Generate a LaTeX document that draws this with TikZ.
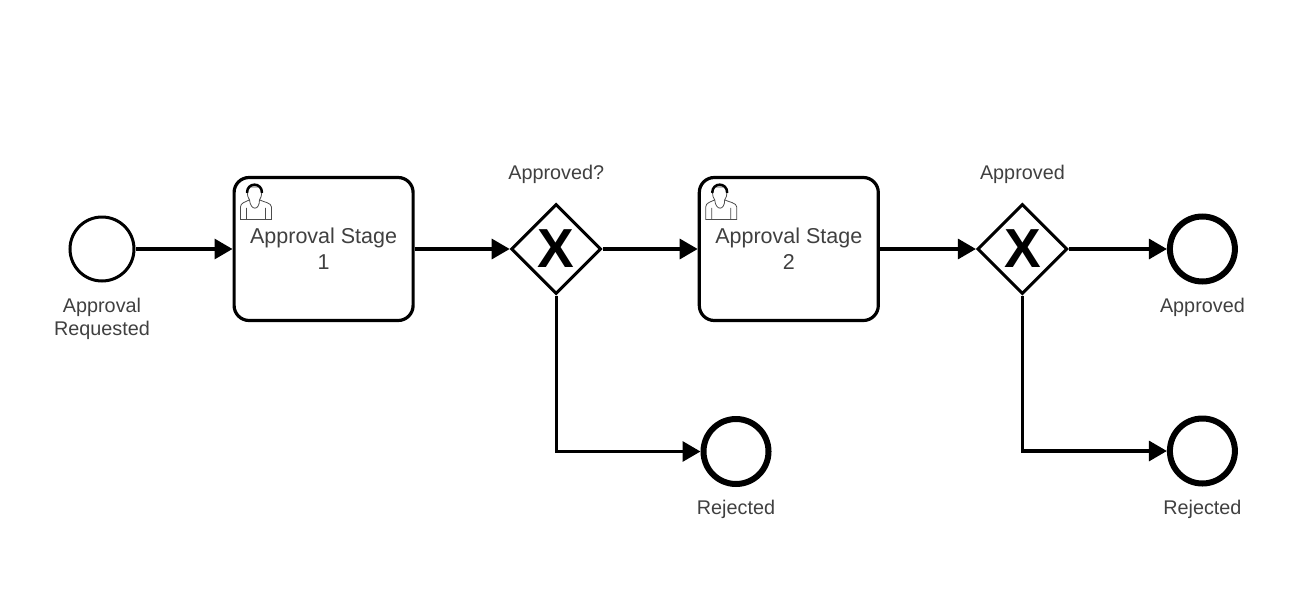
\documentclass[tikz,border=0pt]{standalone}
\usepackage{fontspec}
\setmainfont{Liberation Sans}
\usetikzlibrary{
	arrows.meta,
	positioning,
	shapes.geometric
}

\begin{document}
\begin{tikzpicture}[
			x=1pt, y=-1pt,
			evini/.style={draw, circle, line width=3pt, minimum size=64pt, inner sep=0pt},
			evfim/.style={draw, circle, line width=6pt, minimum size=65pt, inner sep=0pt},
			stagebox/.style={draw, rounded corners=15pt, line width=3.2pt, minimum width=179pt, minimum height=143pt, align=center, inner sep=0pt, text=black!75, font=\fontsize{21.5}{26}\selectfont},
			gate/.style={draw, diamond, aspect=1, line width=3pt, minimum size=90pt, inner sep=0pt, font=\fontsize{55}{55}\selectfont\bfseries},
			rot/.style={inner sep=0pt, align=center, text=black!75, font=\fontsize{19.8}{23}\selectfont},
			fl/.style={-{Triangle[length=18pt,width=20pt]}, line width=3.2pt},
			usericon/.pic={
				\draw[line width=0.8pt, black!70, fill=white] (8,43.5) -- (8,31) .. controls (8,27) and (13,26) .. (17,24) .. controls (14,20) and (14,13) .. (17,11) -- (27,11) .. controls (30,13) and (30,20) .. (27,24) .. controls (31,26) and (39,27) .. (39,31) -- (39,43.5) -- cycle;
				\draw[line width=0.8pt, black!70] (14,32) -- (14,43.5) (33,32) -- (33,43.5) (17,24) .. controls (18,35) and (27,35) .. (27,24);
				\draw[line width=2.5pt, black] (14.5,17) .. controls (14.5,6) and (29.5,6) .. (29.5,17);
			}
		]

		\useasboundingbox (0,0) rectangle (1293,597);

		\node[evini] (ini) at (102,249) {};
		\node[stagebox, right=97pt of ini] (st1) {Approval Stage\\ 1};
		\node[gate, right=95pt of st1] (gw1) {X};
		\node[stagebox, right=95pt of gw1] (st2) {Approval Stage\\ 2};
		\node[gate, right=96pt of st2] (gw2) {X};
		\node[evfim, right=98pt of gw2] (apr) {};
		\node[evfim, below=131pt of apr] (rej2) {};
		\node[evfim] (rej1) at (736,451.5) {};

		\node[rot, below=15pt of ini] (lini) {Approval\\ Requested};
		\node[rot, above=19pt of gw1] (lgw1) {Approved?};
		\node[rot, above=19pt of gw2] (lgw2) {Approved};
		\node[rot, below=13pt of apr] (lapr) {Approved};
		\node[rot, below=13pt of rej1] (lrej1) {Rejected};
		\node[rot, below=13pt of rej2] (lrej2) {Rejected};

		\pic at (st1.north west) {usericon};
		\pic at (st2.north west) {usericon};

		\draw[fl] (ini) -- (st1);
		\draw[fl] (st1) -- (gw1);
		\draw[fl] (gw1) -- (st2);
		\draw[fl] (st2) -- (gw2);
		\draw[fl] (gw2) -- (apr);
		\draw[fl] (gw1) |- (rej1);
		\draw[fl] (gw2) |- (rej2);
	\end{tikzpicture}
\end{document}
